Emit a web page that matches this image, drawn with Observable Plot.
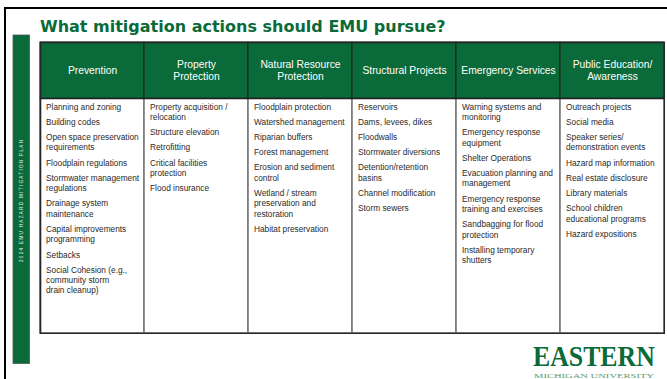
<!DOCTYPE html>
<html>
<head>
<meta charset="utf-8">
<script src="https://cdn.jsdelivr.net/npm/d3@7"></script>
<script src="https://cdn.jsdelivr.net/npm/@observablehq/plot@0.6"></script>
<style>
  html, body { margin: 0; padding: 0; background: #fff; }
  #slide { position: relative; width: 667px; height: 379px; overflow: hidden; font-family: "Liberation Sans", Arial, sans-serif; }
  #deco { position: absolute; left: 0; top: 0; }
  #table { position: absolute; left: 39px; top: 41px; }
</style>
</head>
<body>
<div id="slide">
  <svg id="deco" width="667" height="379">
    <rect x="4" y="7" width="663" height="2" fill="#000"/>
    <rect x="4" y="7" width="2" height="372" fill="#000"/>
    <rect x="13" y="35" width="16.5" height="328.5" fill="#0b6a3a" stroke="#555" stroke-width="0.8"/>
    <text transform="translate(22.5,201) rotate(-90)" text-anchor="middle" font-family="Liberation Sans, Arial, sans-serif" font-size="4.6" fill="#e8f2ec" textLength="122" lengthAdjust="spacing">2024 EMU HAZARD MITIGATION PLAN</text>
    <text x="40" y="32.3" font-family="DejaVu Sans, sans-serif" font-weight="bold" font-size="16" fill="#0b6a3a">What mitigation actions should EMU pursue?</text>
    <text transform="translate(533,366) scale(1,1.17)" font-family="Liberation Serif, serif" font-weight="bold" font-size="25.8" fill="#0b6a3a">EASTERN</text>
    <text x="534" y="377.5" font-family="Liberation Serif, serif" font-size="6.6" fill="#5e9a70" textLength="120" lengthAdjust="spacingAndGlyphs">MICHIGAN UNIVERSITY</text>
  </svg>
  <div id="table"></div>
</div>
<script>
// ---- data ----
const categories = [
  "Prevention",
  "Property Protection",
  "Natural Resource Protection",
  "Structural Projects",
  "Emergency Services",
  "Public Education/ Awareness"
];
const headerLabels = [
  "Prevention",
  "Property\nProtection",
  "Natural Resource\nProtection",
  "Structural Projects",
  "Emergency Services",
  "Public Education/\nAwareness"
];
const prevention = [
  "Planning and zoning",
  "Building codes",
  "Open space preservation\nrequirements",
  "Floodplain regulations",
  "Stormwater management\nregulations",
  "Drainage system\nmaintenance",
  "Capital improvements\nprogramming",
  "Setbacks",
  "Social Cohesion (e.g.,\ncommunity storm\ndrain cleanup)"
];
const propertyProtection = [
  "Property acquisition /\nrelocation",
  "Structure elevation",
  "Retrofitting",
  "Critical facilities\nprotection",
  "Flood insurance"
];
const naturalResourceProtection = [
  "Floodplain protection",
  "Watershed management",
  "Riparian buffers",
  "Forest management",
  "Erosion and sediment\ncontrol",
  "Wetland / stream\npreservation and\nrestoration",
  "Habitat preservation"
];
const structuralProjects = [
  "Reservoirs",
  "Dams, levees, dikes",
  "Floodwalls",
  "Stormwater diversions",
  "Detention/retention\nbasins",
  "Channel modification",
  "Storm sewers"
];
const emergencyServices = [
  "Warning systems and\nmonitoring",
  "Emergency response\nequipment",
  "Shelter Operations",
  "Evacuation planning and\nmanagement",
  "Emergency response\ntraining and exercises",
  "Sandbagging for flood\nprotection",
  "Installing temporary\nshutters"
];
const publicEducation = [
  "Outreach projects",
  "Social media",
  "Speaker series/\ndemonstration events",
  "Hazard map information",
  "Real estate disclosure",
  "Library materials",
  "School children\neducational programs",
  "Hazard expositions"
];
const columnItems = [prevention, propertyProtection, naturalResourceProtection, structuralProjects, emergencyServices, publicEducation];

// ---- layout (in "line" units) ----
const W = 626, H = 293, M = 1;
const headerLines = 5.4, totalLines = 28;
const firstOffset = 0.75, gapLines = 0.46;
const lineHeightPx = (H - 2 * M) / totalLines;
const green = "#0b6a3a";

const headers = categories.map((c, i) => ({cat: c, label: headerLabels[i]}));
const items = [];
columnItems.forEach((list, ci) => {
  let y = headerLines + firstOffset;
  list.forEach(t => {
    const n = t.split("\n").length;
    items.push({cat: categories[ci], text: t, y: y + (n - 1) / 2});
    y += n + gapLines;
  });
});

const bw = (W - 2 * M) / categories.length;
const bodyFont = 8.3;

const chart = Plot.plot({
  width: W,
  height: H,
  margin: M,
  x: {type: "band", domain: categories, padding: 0, axis: null},
  y: {domain: [0, totalLines], range: [M, H - M], axis: null},
  marks: [
    Plot.barY(categories, {x: d => d, y1: headerLines, y2: totalLines, fill: "white", stroke: "#7a7a7a", strokeWidth: 1.6, inset: 0}),
    Plot.barY(categories, {x: d => d, y1: 0, y2: headerLines, fill: green, stroke: "#1e1e1e", strokeWidth: 1, inset: 0}),
    Plot.ruleY([headerLines], {stroke: "#1e1e1e", strokeWidth: 1.2}),
    Plot.frame({stroke: "#262626", strokeWidth: 1.6}),
    Plot.text(headers, {x: "cat", y: headerLines / 2, text: "label", fill: "white", fontSize: 10.3, lineHeight: 1.17, lineAnchor: "middle", textAnchor: "middle", fontFamily: "Liberation Sans, Arial, sans-serif"}),
    Plot.text(items, {x: "cat", y: "y", text: "text", fill: "#2a2a2a", fontSize: bodyFont, lineHeight: lineHeightPx / bodyFont, lineAnchor: "middle", textAnchor: "start", dx: -bw / 2 + 5.5, fontFamily: "Liberation Sans, Arial, sans-serif"})
  ]
});
document.getElementById("table").appendChild(chart);
</script>
</body>
</html>
